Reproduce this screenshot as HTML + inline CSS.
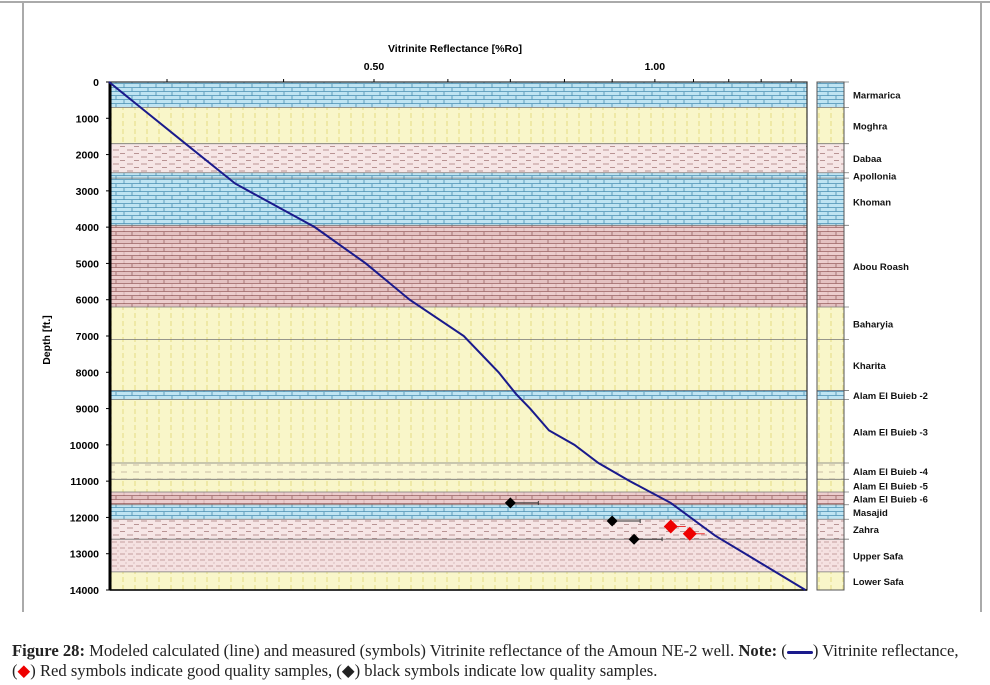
<!DOCTYPE html>
<html><head><meta charset="utf-8"><style>
body{margin:0;background:#fff;width:990px;height:685px;overflow:hidden;position:relative;font-family:"Liberation Sans",sans-serif}
#cap{position:absolute;left:12px;top:641px;width:975px;font-family:"Liberation Serif",serif;font-size:16.6px;line-height:20px;color:#222;white-space:nowrap}
</style></head><body>
<svg id="chart" width="990" height="640" style="position:absolute;left:0;top:0">
<defs>
<pattern id="pBlue" width="16" height="8" patternUnits="userSpaceOnUse"><rect width="16" height="8" fill="#bfe4f2"/><path d="M0 3.5H16M0 7.5H16M4 0V3.5M12 4V8" stroke="#4a8fb3" stroke-width="0.8" fill="none"/></pattern>
<pattern id="pYel" width="12" height="8" patternUnits="userSpaceOnUse"><rect width="12" height="8" fill="#f9f6c9"/><path d="M3 1V6" stroke="#ece59a" stroke-width="1.5"/></pattern>
<pattern id="pPink" width="14" height="7" patternUnits="userSpaceOnUse"><rect width="14" height="7" fill="#f6e6e6"/><path d="M1 3H7M8 6.5H13" stroke="#b99494" stroke-width="0.9"/></pattern>
<pattern id="pBrick" width="16" height="8" patternUnits="userSpaceOnUse"><rect width="16" height="8" fill="#e4c1c1"/><path d="M0 3.5H16M0 7.5H16M4 0V3.5M12 4V8" stroke="#9b6464" stroke-width="0.8" fill="none"/><rect y="4" width="16" height="3" fill="#f1d6d6" opacity="0.6"/></pattern>
<pattern id="pYelS" width="12" height="7" patternUnits="userSpaceOnUse"><rect width="12" height="7" fill="#f9f6d3"/><path d="M1 3H7" stroke="#c6b9a0" stroke-width="0.9"/></pattern>
<pattern id="pPinkD" width="8" height="6" patternUnits="userSpaceOnUse"><rect width="8" height="6" fill="#f5e1e1"/><path d="M0 2H5" stroke="#c09898" stroke-width="0.9"/><circle cx="6" cy="5" r="0.6" fill="#c9a9a9"/></pattern>
</defs>
<line x1="0" y1="2" x2="990" y2="2" stroke="#aaa" stroke-width="2"/>
<line x1="23" y1="2" x2="23" y2="612" stroke="#aaa" stroke-width="2"/>
<line x1="981" y1="2" x2="981" y2="612" stroke="#aaa" stroke-width="2"/>
<g id="layers"></g><g id="col"></g><g id="axes"></g><g id="series"></g>
</svg>
<div id="cap"><b>Figure 28:</b> Modeled calculated (line) and measured (symbols) Vitrinite reflectance of the Amoun NE-2 well. <b>Note:</b> (<span style="display:inline-block;width:26px;height:3px;background:#1a1a8c;vertical-align:middle;border-radius:2px"></span>) Vitrinite reflectance,<br>(<span style="color:#e00">◆</span>) Red symbols indicate good quality samples, (◆) black symbols indicate low quality samples.</div>
<script>
const formNames=["Marmarica","Moghra","Dabaa","Apollonia","Khoman","Abou Roash","Baharyia","Kharita","Alam El Buieb -2","Alam El Buieb -3","Alam El Buieb -4","Alam El Buieb -5","Alam El Buieb -6","Masajid","Zahra","Upper Safa","Lower Safa"];
const formTops=[0,700,1700,2500,2650,3950,6200,7100,8500,8750,10500,10950,11300,11650,12050,12600,13500];
const formBases=[700,1700,2500,2650,3950,6200,7100,8500,8750,10500,10950,11300,11650,12050,12600,13500,14000];
const formFill=["pBlue","pYel","pPink","pBlue","pBlue","pBrick","pYel","pYel","pBlue","pYel","pYelS","pYel","pBrick","pBlue","pPink","pPinkD","pYel"];
const curveDepth=[0,1700,2800,4000,5000,6000,7000,8000,8600,9000,9600,10000,10500,11000,11600,12500,13000,14000];
const curveRo=[0.26,0.314,0.355,0.432,0.49,0.546,0.624,0.68,0.71,0.735,0.77,0.82,0.87,0.94,1.04,1.16,1.25,1.45];
const blackDepth=[11600,12100,12600];
const blackRo=[0.70,0.90,0.95];
const redDepth=[12250,12450];
const redRo=[1.04,1.09];
const yTicks=[0,1000,2000,3000,4000,5000,6000,7000,8000,9000,10000,11000,12000,13000,14000];
const xTicks=[0.3,0.4,0.5,0.6,0.7,0.8,0.9,1.0,1.1,1.2,1.3,1.4];
const xLabels=[0.5,1.0];
const NS="http://www.w3.org/2000/svg";
const L=110,R=807,T=82,B=590;
const y=d=>T+(B-T)*d/14000;
const x=v=>374+933*Math.log10(v/0.5);
function mk(p,tag,at,txt){const e=document.createElementNS(NS,tag);for(const k in at)e.setAttribute(k,at[k]);if(txt!=null)e.textContent=txt;document.getElementById(p).appendChild(e);return e;}
formNames.forEach((n,i)=>{
 const y0=y(formTops[i]),h=y(formBases[i])-y0;
 let r=mk("layers","rect",{x:L,y:y0,width:R-L,height:h,fill:"url(#"+formFill[i]+")"});
 
 
 mk("layers","line",{x1:L,x2:R,y1:y0,y2:y0,stroke:"#777","stroke-width":0.8});
 let c=mk("col","rect",{x:817,y:y0,width:27,height:h,fill:"url(#"+formFill[i]+")"});
 
 
 mk("col","line",{x1:817,x2:849,y1:y0,y2:y0,stroke:"#777","stroke-width":0.8});
 let t=mk("col","text",{x:853,y:y0+h/2+4,"font-size":"9.5","font-weight":"bold",fill:"#111"},n);
 
 
});
mk("col","rect",{x:817,y:T,width:27,height:B-T,fill:"none",stroke:"#555","stroke-width":1});
mk("axes","rect",{x:L,y:T,width:R-L,height:B-T,fill:"none",stroke:"#333","stroke-width":1.2});
mk("axes","line",{x1:L,x2:L,y1:T,y2:B,stroke:"#000","stroke-width":3});
mk("axes","line",{x1:L,x2:R,y1:B,y2:B,stroke:"#000","stroke-width":1.5});
yTicks.forEach(d=>{
 mk("axes","line",{x1:L-4,x2:L,y1:y(d),y2:y(d),stroke:"#000"});
 let t=mk("axes","text",{x:L-11,y:y(d)+4,"text-anchor":"end","font-size":"10.5","font-weight":"bold"},d);
 
 
});
xTicks.forEach(v=>mk("axes","line",{x1:x(v),x2:x(v),y1:T-3,y2:T,stroke:"#000"}));
xLabels.forEach(v=>{
 let t=mk("axes","text",{x:x(v),y:70,"text-anchor":"middle","font-size":"10.5","font-weight":"bold"},v.toFixed(2));
 
 
});
let xt=mk("axes","text",{x:455,y:52,"text-anchor":"middle","font-size":"10.5","font-weight":"bold"},"Vitrinite Reflectance [%Ro]");


let yt=mk("axes","text",{x:0,y:0,"text-anchor":"middle","font-size":"10.5","font-weight":"bold",transform:"translate(50,340) rotate(-90)"},"Depth [ft.]");


let ln=mk("series","polyline",{points:curveDepth.map((d,i)=>x(curveRo[i])+","+y(d)).join(" "),fill:"none",stroke:"#1a1a8c","stroke-width":2});


function dia(cx,cy,col,r){return mk("series","path",{d:`M${cx} ${cy-r}L${cx+r} ${cy}L${cx} ${cy+r}L${cx-r} ${cy}Z`,fill:col});}
blackDepth.forEach((d,i)=>{
 mk("series","line",{x1:x(blackRo[i]),x2:x(blackRo[i])+28,y1:y(d),y2:y(d),stroke:"#333","stroke-width":1});
 mk("series","line",{x1:x(blackRo[i])+28,x2:x(blackRo[i])+28,y1:y(d)-2,y2:y(d)+2,stroke:"#333"});
 let p=dia(x(blackRo[i]),y(d),"#000",5.5);
 
 
});
redDepth.forEach((d,i)=>{
 mk("series","line",{x1:x(redRo[i]),x2:x(redRo[i])+15,y1:y(d),y2:y(d),stroke:"#e33","stroke-width":1});
 let p=dia(x(redRo[i]),y(d),"#e00",7);
 
 
});
</script>
</body></html>
